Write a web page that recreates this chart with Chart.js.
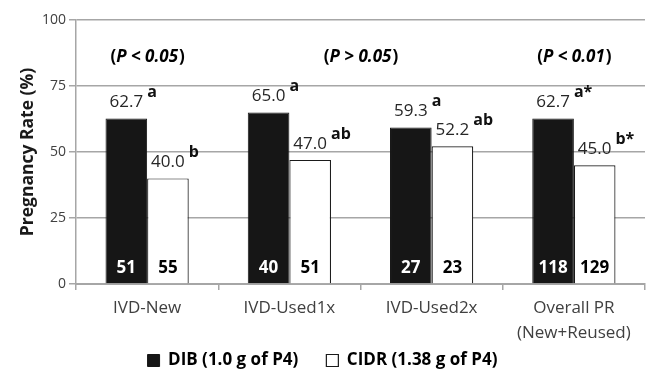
<!DOCTYPE html>
<html><head><meta charset="utf-8">
<script src="https://cdn.jsdelivr.net/npm/chart.js@4/dist/chart.umd.min.js"></script>
<style>html,body{margin:0;padding:0;background:#fff;}</style>
</head><body>
<canvas id="c" width="646" height="369"></canvas>
<script>
const categories = ['IVD-New', 'IVD-Used1x', 'IVD-Used2x', ['Overall PR', '(New+Reused)']];
const seriesNames = ['DIB (1.0 g of P4)', 'CIDR (1.38 g of P4)'];
const dibRate = [62.7, 65.0, 59.3, 62.7];
const cidrRate = [40.0, 47.0, 52.2, 45.0];
const dibLetters = ['a', 'a', 'a', 'a*'];
const cidrLetters = ['b', 'ab', 'ab', 'b*'];
const dibN = [51, 40, 27, 118];
const cidrN = [55, 51, 23, 129];
const pGroups = [[0], [1, 2], [3]];
const pTexts = ['P < 0.05', 'P > 0.05', 'P < 0.01'];
const yTicks = [0, 25, 50, 75, 100];

const FONT = "'Open Sans', 'Liberation Sans', sans-serif";

const annot = {
  id: 'annot',
  afterDatasetsDraw(chart) {
    const ctx = chart.ctx;
    const xs = chart.scales.x, ys = chart.scales.y;
    ctx.save();
    const series = [
      {vals: dibRate, letters: dibLetters, n: dibN, nColor: '#ffffff'},
      {vals: cidrRate, letters: cidrLetters, n: cidrN, nColor: '#000000'}
    ];
    series.forEach((s, di) => {
      const meta = chart.getDatasetMeta(di);
      meta.data.forEach((bar, i) => {
        const txt = s.vals[i].toFixed(1);
        const by = bar.y - 11;
        ctx.font = `17px ${FONT}`;
        ctx.fillStyle = '#262626';
        ctx.textAlign = 'center';
        ctx.textBaseline = 'alphabetic';
        ctx.fillText(txt, bar.x, by);
        const w = ctx.measureText(txt).width;
        ctx.font = `bold 16px ${FONT}`;
        ctx.textAlign = 'left';
        ctx.fillStyle = '#111111';
        ctx.fillText(s.letters[i], bar.x + w / 2 + 4, by - 10);
        ctx.font = `bold 17px ${FONT}`;
        ctx.textAlign = 'center';
        ctx.textBaseline = 'middle';
        ctx.fillStyle = s.nColor;
        ctx.fillText(String(s.n[i]), bar.x, bar.base - 15);
      });
    });
    pGroups.forEach((g, k) => {
      const cx = g.reduce((a, i) => a + xs.getPixelForValue(i), 0) / g.length;
      const cy = ys.top + 37;
      const fUp = `bold 17px ${FONT}`, fIt = `italic bold 17px ${FONT}`;
      ctx.font = fUp; const wo = ctx.measureText('(').width, wc = ctx.measureText(')').width;
      ctx.font = fIt; const wi = ctx.measureText(pTexts[k]).width;
      let x0 = cx - (wo + wi + wc) / 2;
      ctx.textAlign = 'left'; ctx.textBaseline = 'middle'; ctx.fillStyle = '#000';
      ctx.font = fUp; ctx.fillText('(', x0, cy);
      ctx.font = fIt; ctx.fillText(pTexts[k], x0 + wo, cy);
      ctx.font = fUp; ctx.fillText(')', x0 + wo + wi + 1, cy);
    });
    ctx.restore();
  }
};

new Chart(document.getElementById('c'), {
  type: 'bar',
  data: {
    labels: categories,
    datasets: [
      {label: seriesNames[0], data: dibRate, backgroundColor: '#161616', borderColor: '#161616', borderWidth: 1, categoryPercentage: 0.585, barPercentage: 1},
      {label: seriesNames[1], data: cidrRate, backgroundColor: '#ffffff', borderColor: '#1a1a1a', borderWidth: 1.2, categoryPercentage: 0.585, barPercentage: 1}
    ]
  },
  options: {
    responsive: false,
    animation: false,
    layout: {padding: {left: 0, right: 1, top: 20, bottom: -10}},
    plugins: {
      legend: {
        position: 'bottom',
        labels: {
          font: {family: FONT, size: 17, weight: 'bold'}, color: '#000', boxWidth: 12, boxHeight: 12, padding: 6,
          generateLabels(chart) {
            const items = Chart.defaults.plugins.legend.labels.generateLabels(chart);
            items.forEach((it, i) => { if (i < items.length - 1) it.text = it.text + '\u00a0\u00a0\u00a0\u00a0\u00a0'; });
            return items;
          }
        }
      },
      tooltip: {enabled: false}
    },
    scales: {
      x: {
        grid: {drawOnChartArea: false, offset: true, color: '#a6a6a6', lineWidth: 1.5, tickLength: 6},
        border: {color: '#a6a6a6', width: 2},
        ticks: {font: {family: FONT, size: 17, lineHeight: 1.5}, color: '#404040', padding: 5, maxRotation: 0},
        afterFit(s) { s.height = 62; }
      },
      y: {
        min: 0, max: 100,
        afterBuildTicks(s) { s.ticks = yTicks.map(v => ({value: v})); },
        grid: {color: '#a6a6a6', lineWidth: 1.5, tickLength: 7},
        border: {color: '#a6a6a6', width: 1.5},
        ticks: {font: {family: FONT, size: 14}, color: '#404040', padding: 3},
        title: {display: true, text: 'Pregnancy Rate (%)', font: {family: FONT, size: 17.5, weight: 'bold'}, color: '#1a1a1a', padding: {top: 18, bottom: 0}},
        afterFit(s) { s.width = 76; }
      }
    }
  },
  plugins: [annot]
});
</script>
</body></html>
